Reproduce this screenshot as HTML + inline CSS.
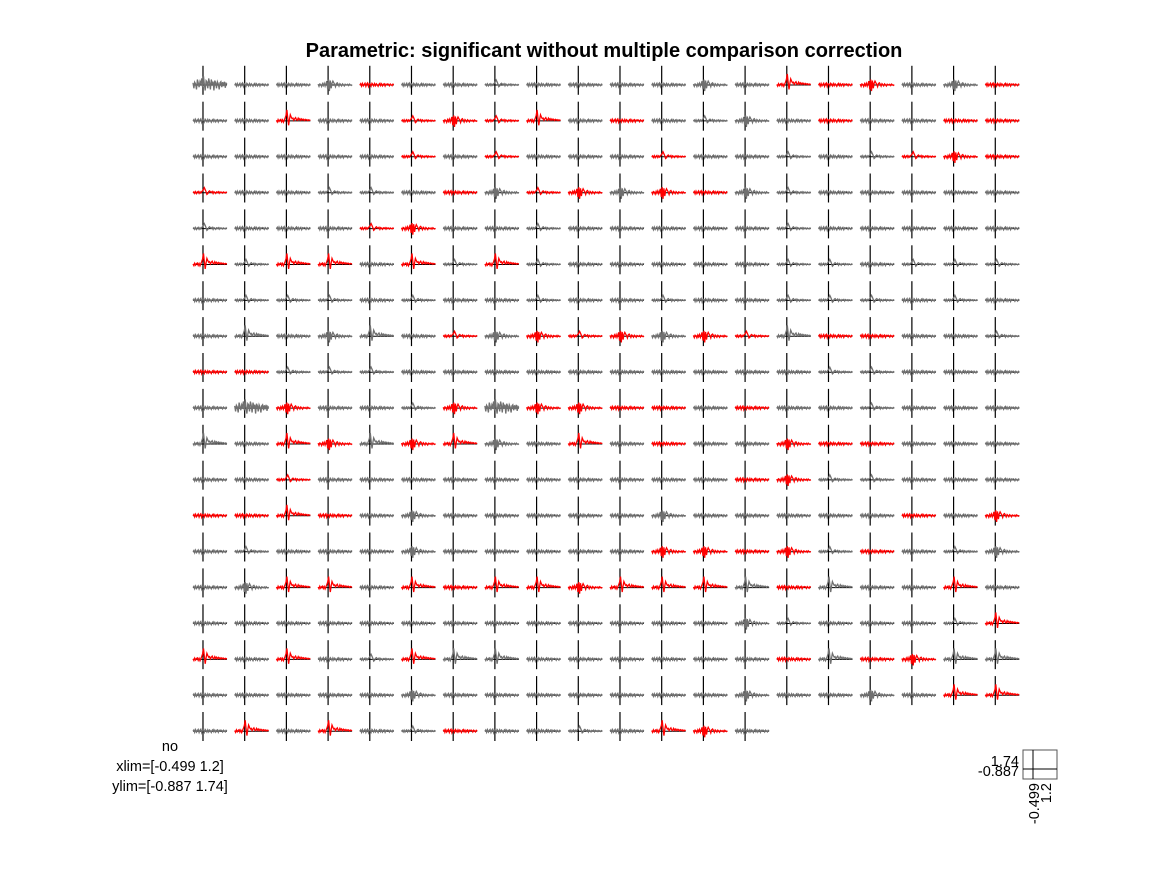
<!DOCTYPE html>
<html><head><meta charset="utf-8">
<style>
html,body{margin:0;padding:0;background:#fff;}
body{width:1167px;height:875px;overflow:hidden;font-family:"Liberation Sans",Arial,sans-serif;}
svg text{font-family:"Liberation Sans",Arial,sans-serif;}
</style></head>
<body>
<svg id="chart" width="1167" height="875" viewBox="0 0 1167 875" xmlns="http://www.w3.org/2000/svg">
<rect width="1167" height="875" fill="#fff"/>
<text x="604" y="57" text-anchor="middle" font-size="20" font-weight="bold" fill="#000">Parametric: significant without multiple comparison correction</text>
<g id="grid"></g>
<text x="170" y="751" text-anchor="middle" font-size="14.5" fill="#000">no</text>
<text x="170" y="771" text-anchor="middle" font-size="14.5" fill="#000">xlim=[-0.499 1.2]</text>
<text x="170" y="791" text-anchor="middle" font-size="14.5" fill="#000">ylim=[-0.887 1.74]</text>
<g>
<rect x="1023" y="750" width="34" height="29" fill="none" stroke="#555" stroke-width="1"/>
<line x1="1033" y1="750" x2="1033" y2="779" stroke="#000" stroke-width="1"/>
<line x1="1023" y1="769" x2="1057" y2="769" stroke="#000" stroke-width="1"/>
<text x="1019" y="766" text-anchor="end" font-size="14.5">1.74</text>
<text x="1019" y="776" text-anchor="end" font-size="14.5">-0.887</text>
<text transform="translate(1039,783) rotate(-90)" text-anchor="end" font-size="14.5">-0.499</text>
<text transform="translate(1051,783) rotate(-90)" text-anchor="end" font-size="14.5">1.2</text>
</g>
</svg>
<script>
const xlim = [-0.499, 1.2];
const ylim = [-0.887, 1.74];
// significance per row (R = significant / red, G = not significant / gray)
const sigRows = [
"GGGGRGGGGGGGGGRRRGGR",
"GGRGGRRRRGRGGGGRGGRR",
"GGGGGRGRGGGRGGGGGRRR",
"RGGGGGRGRRGRRGGGGGGG",
"GGGGRRGGGGGGGGGGGGGG",
"RGRRGRGRGGGGGGGGGGGG",
"GGGGGGGGGGGGGGGGGGGG",
"GGGGGGRGRRRGRRGRRGGG",
"RRGGGGGGGGGGGGGGGGGG",
"GGRGGGRGRRRRGRGGGGGG",
"GGRRGRRGGRGRGGRRRGGG",
"GGRGGGGGGGGGGRRGGGGG",
"RRRRGGGGGGGGGGGGGRGR",
"GGGGGGGGGGGRRRRGRGGG",
"GGRRGRRRRRRRRGRGGGRG",
"GGGGGGGGGGGGGGGGGGGR",
"RGRGGRGGGGGGGGRGRRGG",
"GGGGGGGGGGGGGGGGGGRR",
"GRGRGGRGGGGRRG"
];
// waveform template chosen per cell
const shapeRows = [
"40020003000020102020",
"00100323100032000000",
"00000303000300303320",
"30033002322202300000",
"30003200300000300000",
"13110131300000330333",
"03330300300300333030",
"01021032232223100003",
"00333000000000033000",
"04200324220000003000",
"10121212010000200000",
"00300000000000233000",
"00100200000200000002",
"03000200000220230032",
"02110101121111010010",
"00000000000002300031",
"10103111000000010211",
"00000200000002002011",
"01010300030120"
];
const shape0 = [0,0.12,-0.1,0.14,-0.08,0.06,0.16,-0.12,0.1,0.18,-0.14,0.12,0.08,-0.1,0.15,0.05,-0.08,0.13,-0.06,0.11,0.03,-0.12,0.08,0.15,-0.05,0.1,-0.08,0.06,0.12,-0.1,0.08,0.03,0.1,0.05,-0.07,0.09,0.02,-0.06,0.08,0.04];
const shape1 = [0.05,-0.1,0.12,-0.05,0.08,0.14,-0.08,0.1,-0.12,0.06,0.25,0.5,1.0,0.3,-0.4,0.15,0.55,0.35,0.2,0.25,0.05,0.2,0.3,0.1,0.05,0.25,0.1,0.2,0.05,0.18,0.08,0.15,0.04,0.14,0.06,0.12,0.02,0.1,0.05,0.08];
const shape2 = [0.08,-0.12,0.1,0.05,-0.14,0.12,-0.05,0.16,-0.1,0.12,0.35,-0.4,0.5,-0.55,0.4,-0.3,0.15,0.35,0.2,0.05,-0.15,0.14,0.2,0.06,-0.1,0.12,0.04,-0.08,0.1,0.02,-0.09,0.07,0.04,-0.02,0.06,-0.05,0.08,0.01,-0.04,0.03];
const shape3 = [0,0.08,-0.06,0.1,-0.08,0.05,0.12,-0.06,0.08,-0.03,0.1,0.18,0.3,0.45,0.28,0.08,-0.15,-0.08,0.1,0.16,0.08,0.03,0.12,-0.07,0.09,0.04,-0.06,0.07,0.02,0.09,-0.05,0.07,0,0.05,-0.04,0.06,0.02,-0.03,0.05,0.01];
const shape4 = [0.2,-0.3,0.25,0.1,-0.4,0.5,0.2,-0.2,0.3,0.1,0.6,-0.2,0.8,0.1,-0.5,0.4,0.3,-0.3,0.6,0.2,-0.4,0.5,0.1,0.3,-0.5,0.4,0.2,-0.3,0.3,0.1,-0.4,0.2,0.3,-0.2,0.25,-0.1,0.3,-0.25,0.15,0.05];
const shapes = [shape0, shape1, shape2, shape3, shape4];

const NS = "http://www.w3.org/2000/svg";
const grid = document.getElementById('grid');
const cellW = 34, cellH = 29, x0 = 193, pitchX = 41.7, baseY0 = 85, pitchY = 35.9;
function xScale(v, left){ return left + (v - xlim[0]) / (xlim[1] - xlim[0]) * cellW; }
function yScale(v, top){ return top + (ylim[1] - v) / (ylim[1] - ylim[0]) * cellH; }

sigRows.forEach((row, r) => {
  for (let c = 0; c < row.length; c++) {
    const left = x0 + c * pitchX;
    const top = baseY0 + r * pitchY - (ylim[1] / (ylim[1] - ylim[0])) * cellH;
    const g = document.createElementNS(NS, 'g');
    
    
    const zx = xScale(0, left), zy = yScale(0, top);
    const vl = document.createElementNS(NS, 'line');
    vl.setAttribute('x1', zx); vl.setAttribute('x2', zx);
    vl.setAttribute('y1', top); vl.setAttribute('y2', top + cellH);
    vl.setAttribute('stroke', '#000'); vl.setAttribute('stroke-width', '1.2');
    
    
    g.appendChild(vl);
    const hl = document.createElementNS(NS, 'line');
    hl.setAttribute('x1', left); hl.setAttribute('x2', left + cellW);
    hl.setAttribute('y1', zy); hl.setAttribute('y2', zy);
    hl.setAttribute('stroke', '#000'); hl.setAttribute('stroke-width', '1');
    
    
    g.appendChild(hl);
    const s = shapes[+(shapeRows[r][c] || 0)];
    const pts = s.map((v, i) => {
      const t = xlim[0] + i / (s.length - 1) * (xlim[1] - xlim[0]);
      return xScale(t, left).toFixed(1) + ',' + yScale(v, top).toFixed(1);
    }).join(' ');
    const pl = document.createElementNS(NS, 'polyline');
    pl.setAttribute('points', pts);
    pl.setAttribute('fill', 'none');
    pl.setAttribute('stroke', row[c] === 'R' ? '#ff0000' : '#707070');
    pl.setAttribute('stroke-width', '1.3');
    
    
    g.appendChild(pl);
    grid.appendChild(g);
  }
});
</script>
</body></html>
